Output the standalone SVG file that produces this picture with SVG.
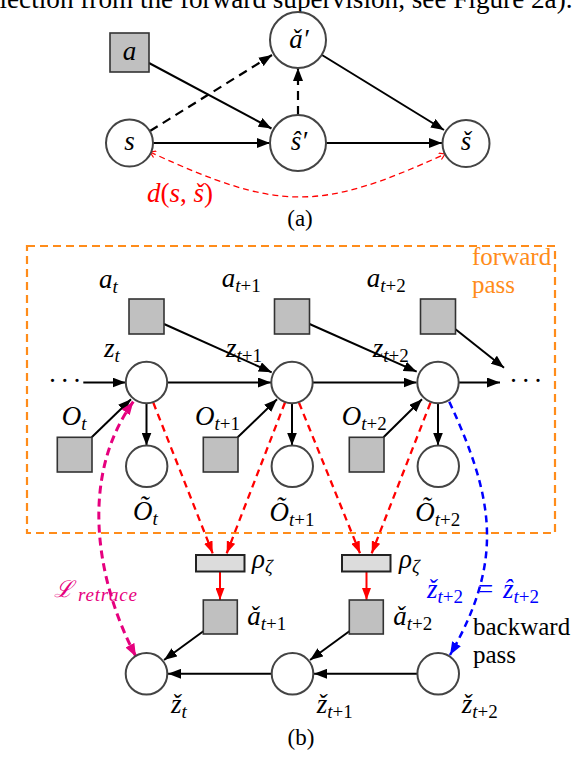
<svg xmlns="http://www.w3.org/2000/svg" width="580" height="782" viewBox="0 0 580 782">
<defs>
<style>
.m{font-family:'Liberation Serif','DejaVu Serif',serif;font-style:italic;font-size:27px;fill:#000}
.s{font-size:19px}
.u{font-style:normal}
.rm{font-family:'Liberation Serif','DejaVu Serif',serif;font-size:25px;fill:#000}
.cap{font-family:'Liberation Serif','DejaVu Serif',serif;font-size:23px;fill:#000}
.c{fill:#fff;stroke:#444;stroke-width:2}
.q{fill:#c0c0c0;stroke:#333;stroke-width:1.6}
.rho{fill:#dcdcdc;stroke:#222;stroke-width:2}
.k{stroke:#000;stroke-width:2;fill:none}
.kd{stroke:#000;stroke-width:2.2;fill:none;stroke-dasharray:9 6}
.rd{stroke:#f00;stroke-width:2.3;fill:none;stroke-dasharray:7 5}
.rs{stroke:#f00;stroke-width:2;fill:none}
.rt{stroke:#f00;stroke-width:1.3;fill:none;stroke-dasharray:6 4}
.md{stroke:#e6007e;stroke-width:3;fill:none;stroke-dasharray:8 5}
.bd{stroke:#00f;stroke-width:2.5;fill:none;stroke-dasharray:7 5}
.od{stroke:#ff8c1a;stroke-width:2.2;fill:none;stroke-dasharray:8 5}
</style>
<marker id="ak" markerUnits="userSpaceOnUse" viewBox="0 0 13 10" markerWidth="13" markerHeight="10" refX="13" refY="5" orient="auto"><path d="M0,0 L13,5 L0,10 z" fill="#000"/></marker>
<marker id="ar" markerUnits="userSpaceOnUse" viewBox="0 0 12 9" markerWidth="12" markerHeight="9" refX="12" refY="4.5" orient="auto"><path d="M0,0 L12,4.5 L0,9 z" fill="#f00"/></marker>
<marker id="am" markerUnits="userSpaceOnUse" viewBox="0 0 13 10" markerWidth="13" markerHeight="10" refX="13" refY="5" orient="auto-start-reverse"><path d="M0,0 L13,5 L0,10 z" fill="#e6007e"/></marker>
<marker id="ab" markerUnits="userSpaceOnUse" viewBox="0 0 13 10" markerWidth="13" markerHeight="10" refX="13" refY="5" orient="auto"><path d="M0,0 L13,5 L0,10 z" fill="#00f"/></marker>
<marker id="ao" markerUnits="userSpaceOnUse" viewBox="0 0 7 8" markerWidth="7" markerHeight="8" refX="6" refY="4" orient="auto-start-reverse"><path d="M0.5,0.5 L6,4 L0.5,7.5" fill="none" stroke="#f00" stroke-width="1.2"/></marker>
</defs>

<text x="-0.5" y="7.5" font-family="'Liberation Serif',serif" font-size="27.2">lection from the forward supervision, see Figure 2a).</text>

<!-- Part (a) connectors -->
<g id="connectors-a">
<line class="k" x1="149" y1="63" x2="271.5" y2="128.5" marker-end="url(#ak)"/>
<line class="kd" x1="150" y1="131" x2="272" y2="55" marker-end="url(#ak)"/>
<line class="kd" x1="298" y1="115" x2="298" y2="68" marker-end="url(#ak)"/>
<line class="k" x1="322" y1="55" x2="444" y2="130" marker-end="url(#ak)"/>
<line class="k" x1="153" y1="143" x2="270" y2="143" marker-end="url(#ak)"/>
<line class="k" x1="326" y1="143" x2="442" y2="143" marker-end="url(#ak)"/>
<path class="rt" d="M150,152 C277.5,210.6 317.5,212.6 445,154" marker-start="url(#ao)" marker-end="url(#ao)"/>
</g>

<g id="node-a"><rect class="q" x="110" y="33" width="39" height="39"/><text class="m" x="129.5" y="60" text-anchor="middle">a</text></g>
<g id="node-a-check-prime"><circle class="c" cx="298" cy="40" r="28"/><text class="m" x="299" y="48" text-anchor="middle">ǎ′</text></g>
<g id="node-s"><circle class="c" cx="129.5" cy="143" r="23.5"/><text class="m" x="129.5" y="149.5" text-anchor="middle">s</text></g>
<g id="node-s-hat-prime"><circle class="c" cx="298" cy="143" r="28"/><text class="m" x="299" y="150" text-anchor="middle">ŝ′</text></g>
<g id="node-s-check"><circle class="c" cx="466" cy="143.5" r="23.5"/><text class="m" x="466" y="150" text-anchor="middle">š</text></g>

<text class="m" x="147" y="202" style="fill:#f00">d<tspan class="u">(</tspan>s<tspan class="u">, </tspan>š<tspan class="u">)</tspan></text>
<text class="cap" x="300" y="226" text-anchor="middle">(a)</text>

<!-- Part (b) -->
<rect class="od" x="27" y="246" width="528" height="287"/>
<text class="rm" x="472" y="265" style="fill:#ff8c1a">forward</text>
<text class="rm" x="472" y="293" style="fill:#ff8c1a">pass</text>
<text class="rm" x="473" y="635">backward</text>
<text class="rm" x="473" y="663">pass</text>

<g id="connectors-b">
<line class="k" x1="83.3" y1="382.5" x2="125.5" y2="382.5" marker-end="url(#ak)"/>
<line class="k" x1="167" y1="382.5" x2="271" y2="382.5" marker-end="url(#ak)"/>
<line class="k" x1="313" y1="382.5" x2="416.5" y2="382.5" marker-end="url(#ak)"/>
<line class="k" x1="459" y1="382.5" x2="500" y2="382.5" marker-end="url(#ak)"/>
<line class="k" x1="164" y1="324" x2="271.7" y2="372.3" marker-end="url(#ak)"/>
<line class="k" x1="309.5" y1="324" x2="416.7" y2="371.7" marker-end="url(#ak)"/>
<line class="k" x1="455.5" y1="329.3" x2="504" y2="367.7" marker-end="url(#ak)"/>
<line class="k" x1="91.7" y1="437.3" x2="131" y2="399.3" marker-end="url(#ak)"/>
<line class="k" x1="237.7" y1="437.3" x2="277" y2="399.3" marker-end="url(#ak)"/>
<line class="k" x1="383.5" y1="437.3" x2="422" y2="399.3" marker-end="url(#ak)"/>
<line class="k" x1="146.5" y1="403.2" x2="146.5" y2="445.5" marker-end="url(#ak)"/>
<line class="k" x1="292" y1="403.2" x2="292" y2="445.5" marker-end="url(#ak)"/>
<line class="k" x1="438" y1="403.2" x2="438" y2="445.5" marker-end="url(#ak)"/>
<line class="rd" x1="153.3" y1="402.7" x2="212.7" y2="553.3" marker-end="url(#ar)"/>
<line class="rd" x1="285" y1="402.5" x2="226.7" y2="553.3" marker-end="url(#ar)"/>
<line class="rd" x1="299" y1="402.7" x2="360" y2="553.3" marker-end="url(#ar)"/>
<line class="rd" x1="430.5" y1="402.7" x2="371.7" y2="553.3" marker-end="url(#ar)"/>
<line class="rs" x1="220" y1="571.7" x2="220" y2="600" marker-end="url(#ar)"/>
<line class="rs" x1="366.5" y1="571.7" x2="366.5" y2="600" marker-end="url(#ar)"/>
<line class="k" x1="271.7" y1="673.8" x2="168" y2="673.8" marker-end="url(#ak)"/>
<line class="k" x1="417.5" y1="673.8" x2="314" y2="673.8" marker-end="url(#ak)"/>
<line class="k" x1="204" y1="630.7" x2="164" y2="660" marker-end="url(#ak)"/>
<line class="k" x1="350" y1="630.7" x2="310" y2="660" marker-end="url(#ak)"/>
<path class="md" d="M133.3,401.7 C80.4,474.5 94.1,577 136,656.7" marker-start="url(#am)" marker-end="url(#am)"/>
<path class="bd" d="M449.3,401.7 C494.7,500 504,561 450,655" marker-end="url(#ab)"/>
</g>

<text class="m" x="48" y="389.5" style="font-style:normal;letter-spacing:3.3px">···</text>
<text class="m" x="509" y="389.5" style="font-style:normal;letter-spacing:3.3px">···</text>

<g id="node-a-t"><rect class="q" x="129" y="299" width="35" height="35"/></g>
<g id="node-a-t1"><rect class="q" x="274.5" y="299" width="35" height="35"/></g>
<g id="node-a-t2"><rect class="q" x="420.5" y="299" width="35" height="35"/></g>
<text class="m" x="99" y="288">a<tspan class="s" dy="5">t</tspan></text>
<text class="m" x="221.7" y="287">a<tspan class="s" dy="5">t</tspan><tspan class="s u">+1</tspan></text>
<text class="m" x="366.7" y="287">a<tspan class="s" dy="5">t</tspan><tspan class="s u">+2</tspan></text>

<g id="node-z-t"><circle class="c" cx="146.5" cy="382.5" r="20.7"/></g>
<g id="node-z-t1"><circle class="c" cx="292" cy="382.5" r="20.7"/></g>
<g id="node-z-t2"><circle class="c" cx="438" cy="382.5" r="20.7"/></g>
<text class="m" x="104" y="357">z<tspan class="s" dy="5">t</tspan></text>
<text class="m" x="226" y="357">z<tspan class="s" dy="5">t</tspan><tspan class="s u">+1</tspan></text>
<text class="m" x="372.7" y="357">z<tspan class="s" dy="5">t</tspan><tspan class="s u">+2</tspan></text>

<g id="node-o-t"><rect class="q" x="57.3" y="437.3" width="34.7" height="34.7"/></g>
<g id="node-o-t1"><rect class="q" x="203.3" y="437.3" width="34.7" height="34.7"/></g>
<g id="node-o-t2"><rect class="q" x="349.3" y="437.3" width="34.7" height="34.7"/></g>
<text class="m" x="61.7" y="425">O<tspan class="s" dy="5">t</tspan></text>
<text class="m" x="195" y="425">O<tspan class="s" dy="5">t</tspan><tspan class="s u">+1</tspan></text>
<text class="m" x="341.7" y="425">O<tspan class="s" dy="5">t</tspan><tspan class="s u">+2</tspan></text>

<g id="node-otilde-t"><circle class="c" cx="146.7" cy="466.3" r="20.7"/></g>
<g id="node-otilde-t1"><circle class="c" cx="292.3" cy="466.3" r="20.7"/></g>
<g id="node-otilde-t2"><circle class="c" cx="438.3" cy="466.3" r="20.7"/></g>
<text class="m" x="145.5" y="520" text-anchor="middle">Õ<tspan class="s" dy="5">t</tspan></text>
<text class="m" x="292" y="521" text-anchor="middle">Õ<tspan class="s" dy="5">t</tspan><tspan class="s u">+1</tspan></text>
<text class="m" x="437.7" y="521" text-anchor="middle">Õ<tspan class="s" dy="5">t</tspan><tspan class="s u">+2</tspan></text>

<g id="node-rho-1"><rect class="rho" x="196" y="555" width="48.5" height="16.5"/><text class="m" x="252" y="568">ρ<tspan class="s" dy="5">ζ</tspan></text></g>
<g id="node-rho-2"><rect class="rho" x="342" y="555" width="48.5" height="16.5"/><text class="m" x="399" y="568">ρ<tspan class="s" dy="5">ζ</tspan></text></g>

<g id="node-acheck-t1"><rect class="q" x="203.3" y="600" width="34" height="34"/><text class="m" x="247.3" y="625">ǎ<tspan class="s" dy="5">t</tspan><tspan class="s u">+1</tspan></text></g>
<g id="node-acheck-t2"><rect class="q" x="349.3" y="600" width="34" height="34"/><text class="m" x="393.3" y="625">ǎ<tspan class="s" dy="5">t</tspan><tspan class="s u">+2</tspan></text></g>

<g id="node-zcheck-t"><circle class="c" cx="146.5" cy="673.8" r="20.8"/><text class="m" x="171" y="713">ž<tspan class="s" dy="5">t</tspan></text></g>
<g id="node-zcheck-t1"><circle class="c" cx="292.5" cy="673.8" r="20.8"/><text class="m" x="316.7" y="713">ž<tspan class="s" dy="5">t</tspan><tspan class="s u">+1</tspan></text></g>
<g id="node-zcheck-t2"><circle class="c" cx="438.2" cy="673.8" r="20.8"/><text class="m" x="461.7" y="713">ž<tspan class="s" dy="5">t</tspan><tspan class="s u">+2</tspan></text></g>

<text class="m" x="54" y="597" style="fill:#e6007e;font-size:23px">ℒ<tspan class="s" x="78" dy="4" textLength="59">retrace</tspan></text>
<text class="m" y="598" style="fill:#00f"><tspan x="427">ž</tspan><tspan class="s" dy="5">t</tspan><tspan class="s u">+2</tspan><tspan class="u" x="478" dy="-5">=</tspan><tspan x="503">ẑ</tspan><tspan class="s" dy="5">t</tspan><tspan class="s u">+2</tspan></text>

<text class="cap" x="301" y="745" text-anchor="middle">(b)</text>
</svg>
